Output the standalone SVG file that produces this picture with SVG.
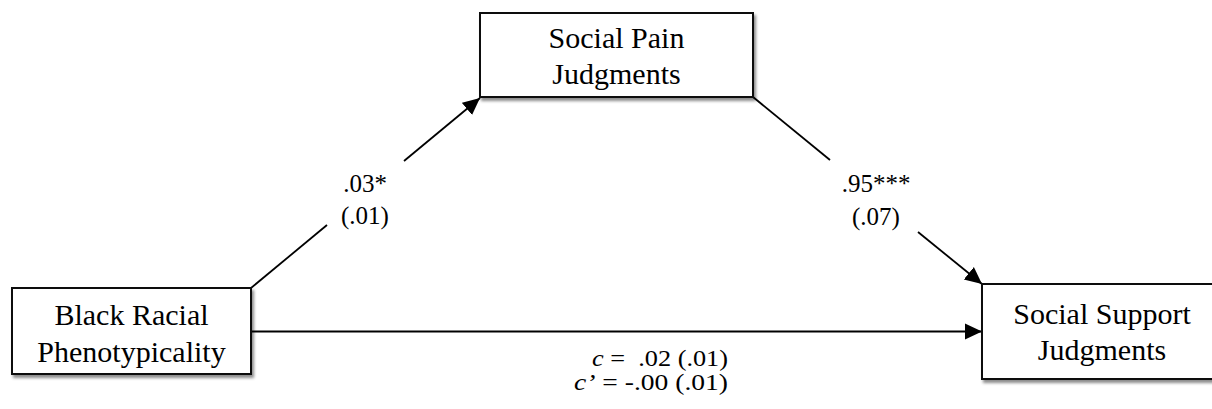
<svg xmlns="http://www.w3.org/2000/svg" width="1212" height="409" viewBox="0 0 1212 409">
  <defs>
    <filter id="shadow" x="-10%" y="-10%" width="130%" height="140%">
      <feDropShadow dx="2" dy="3" stdDeviation="1.5" flood-color="#000" flood-opacity="0.45"/>
    </filter>
    <marker id="arrow" markerUnits="userSpaceOnUse" markerWidth="18" markerHeight="18" refX="17" refY="8" orient="auto" viewBox="0 0 18 16">
      <path d="M0,0 L17,8 L0,16 z" fill="#000"/>
    </marker>
    <style>
      .box { fill: #fff; stroke: #111; stroke-width: 2; filter: url(#shadow); }
      .node-text { font-family: "Liberation Serif", "Times New Roman", serif; font-size: 30px; fill: #000; text-anchor: middle; }
      .label { font-family: "Liberation Serif", "Times New Roman", serif; font-size: 25px; fill: #000; text-anchor: middle; }
      .clabel { font-family: "Liberation Serif", "Times New Roman", serif; font-size: 23px; fill: #000; }
      .edge { stroke: #000; stroke-width: 1.8; fill: none; }
    </style>
  </defs>
  <rect width="1212" height="409" fill="#fff"/>

  <g id="connectors">
    <line class="edge" x1="251" y1="288" x2="327" y2="225"/>
    <line class="edge" x1="404" y1="161" x2="480" y2="98" marker-end="url(#arrow)"/>
    <line class="edge" x1="753" y1="97" x2="830" y2="160"/>
    <line class="edge" x1="918" y1="232" x2="982" y2="284" marker-end="url(#arrow)"/>
    <line class="edge" x1="251" y1="331.5" x2="982" y2="331.5" marker-end="url(#arrow)"/>
  </g>

  <g id="node-black-racial">
    <rect class="box" x="12" y="288" width="239" height="86"/>
    <text class="node-text" x="131.5" y="325">Black Racial</text>
    <text class="node-text" x="131.5" y="362">Phenotypicality</text>
  </g>

  <g id="node-social-pain">
    <rect class="box" x="480" y="13" width="273" height="84"/>
    <text class="node-text" x="616.5" y="48">Social Pain</text>
    <text class="node-text" x="616.5" y="84">Judgments</text>
  </g>

  <g id="node-social-support">
    <rect class="box" x="982" y="284" width="240" height="95"/>
    <text class="node-text" x="1102" y="324">Social Support</text>
    <text class="node-text" x="1102" y="360">Judgments</text>
  </g>

  <g id="labels">
    <text class="label" x="365" y="192">.03*</text>
    <text class="label" x="365" y="224">(.01)</text>
    <text class="label" x="876" y="192">.95***</text>
    <text class="label" x="876" y="225">(.07)</text>
    <text class="clabel" x="592" y="366" xml:space="preserve" textLength="136" lengthAdjust="spacingAndGlyphs"><tspan font-style="italic">c</tspan> =  .02 (.01)</text>
    <text class="clabel" x="574" y="390" xml:space="preserve" textLength="154" lengthAdjust="spacingAndGlyphs"><tspan font-style="italic">c’</tspan> = -.00 (.01)</text>
  </g>
</svg>
